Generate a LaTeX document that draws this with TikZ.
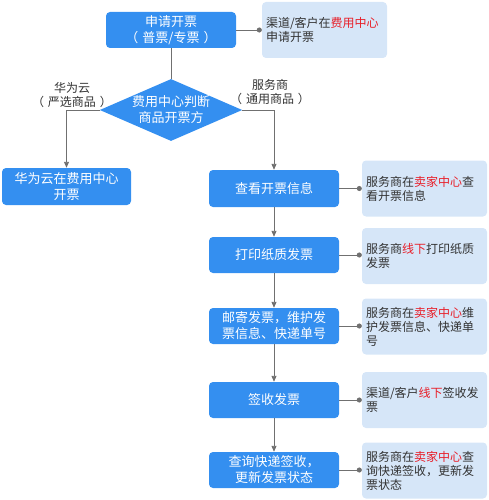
\documentclass[tikz,border=0pt]{standalone}
\usepackage{fontspec}
\newfontfamily\cjk{Noto Sans CJK SC}
\usetikzlibrary{shapes.geometric,arrows.meta}
\definecolor{boxblue}{RGB}{52,143,240}
\definecolor{notebg}{RGB}{214,230,248}
\definecolor{linegray}{RGB}{112,112,112}
\definecolor{hired}{RGB}{232,30,40}
\definecolor{notetext}{RGB}{50,50,50}
\tikzset{
  stepbox/.style={fill=boxblue, draw=none, rounded corners=4pt, text=white,
    align=center, inner sep=2pt, font=\cjk\fontsize{13pt}{16pt}\selectfont},
  notebox/.style={fill=notebg, draw=none, rounded corners=4pt, text=notetext,
    align=left, text width=117pt, inner sep=4pt, minimum width=125pt, minimum height=56pt,
    font=\cjk\fontsize{12pt}{14pt}\selectfont},
  decision/.style={diamond, fill=boxblue, draw=none, text=white, align=center,
    inner sep=0pt, aspect=2.3, minimum width=130pt, minimum height=56pt,
    font=\cjk\fontsize{13pt}{16pt}\selectfont},
  branchlabel/.style={align=center, text=notetext, inner sep=0pt,
    font=\cjk\fontsize{12pt}{13.5pt}\selectfont},
  conn/.style={draw=linegray, line width=0.9pt},
  arr/.style={conn, -{Triangle[width=5pt,length=6pt]}},
  dotconn/.style={conn, -{Circle[length=5pt]}},
}
\newcommand{\hl}[1]{\textcolor{hired}{#1}}
\newcommand{\lp}{（\kern4pt}
\newcommand{\rp}{\kern4pt）}
\begin{document}
\begin{tikzpicture}[x=1pt,y=-1pt]
\useasboundingbox (0,0) rectangle (489,500);
% main nodes
\node[stepbox, minimum width=130pt, minimum height=36pt] (apply) at (171,30) {申请开票\\\lp 普票/专票\rp};
\node[notebox] (n1) at (324.5,30) {渠道/客户在\hl{费用中心}\\申请开票};
\node[decision] (judge) at (171,110) {费用中心判断\\商品开票方};
\node[stepbox, minimum width=129pt, minimum height=37pt] (hw) at (66.5,186.5) {华为云在费用中心\\开票};
\node[stepbox, minimum width=130pt, minimum height=37pt] (view) at (274,188.5) {查看开票信息};
\node[stepbox, minimum width=130pt, minimum height=36pt] (print) at (274,255) {打印纸质发票};
\node[stepbox, minimum width=130pt, minimum height=36pt] (mail) at (274,326) {邮寄发票，维护发\\票信息、快递单号};
\node[stepbox, minimum width=130pt, minimum height=36pt] (sign) at (274,400) {签收发票};
\node[stepbox, minimum width=130pt, minimum height=36pt] (query) at (274,470) {查询快递签收，\\更新发票状态};
% notes
\node[notebox] (n2) at (424.5,188.5) {服务商在\hl{卖家中心}查\\看开票信息};
\node[notebox] (n3) at (424.5,256) {服务商\hl{线下}打印纸质\\发票};
\node[notebox] (n4) at (424.5,326.5) {服务商在\hl{卖家中心}维\\护发票信息、快递单\\号};
\node[notebox] (n5) at (424.5,400) {渠道/客户\hl{线下}签收发\\票};
\node[notebox] (n6) at (424.5,470.5) {服务商在\hl{卖家中心}查\\询快递签收，更新发\\票状态};
% branch labels
\node[branchlabel] (lblL) at (72,95) {华为云\\\lp 严选商品\rp};
\node[branchlabel] (lblR) at (270,92) {服务商\\\lp 通用商品\rp};
% connectors
\draw[conn] (apply.south) -- (judge.north);
\draw[arr] (judge.west) -| (hw.north);
\draw[arr] (judge.east) -| (view.north);
\draw[arr] (view) -- (print);
\draw[arr] (print) -- (mail);
\draw[arr] (mail) -- (sign);
\draw[arr] (sign) -- (query);
\foreach \a/\b in {apply/n1, view/n2, print/n3, mail/n4, sign/n5, query/n6}
  \draw[dotconn] (\a.east) -- (\a.east -| \b.west);
\end{tikzpicture}
\end{document}
